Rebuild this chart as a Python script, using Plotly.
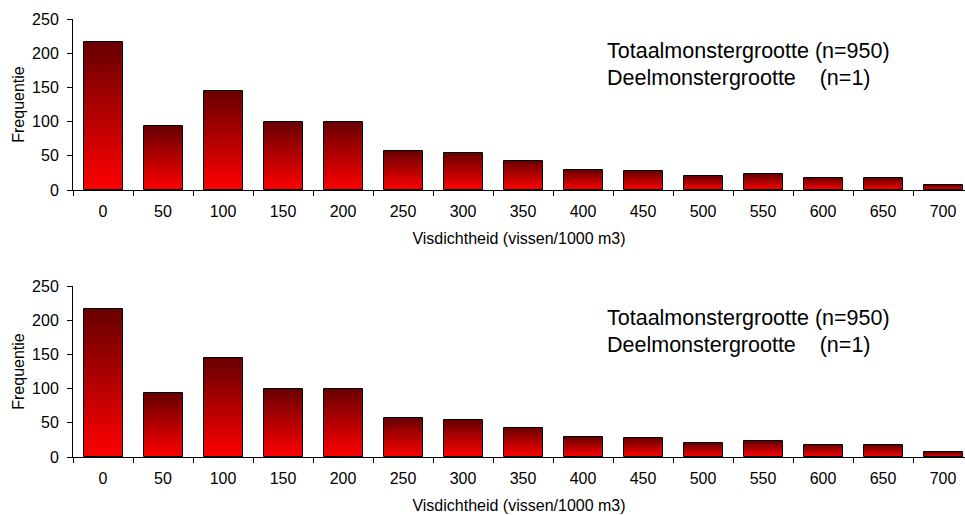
import plotly.graph_objects as go

categories = ["0", "50", "100", "150", "200", "250", "300", "350",
              "400", "450", "500", "550", "600", "650", "700"]
freq_top = [216, 93, 145, 100, 100, 57, 54, 43, 29, 28, 20, 23, 18, 17, 7]
freq_bottom = [216, 93, 145, 100, 100, 57, 54, 43, 29, 28, 20, 23, 18, 17, 7]
y_ticks = [0, 50, 100, 150, 200, 250]
x_title = "Visdichtheid (vissen/1000 m3)"
y_title = "Frequentie"
note_line1 = "Totaalmonstergrootte (n=950)"
note_line2 = "Deelmonstergrootte\u00a0\u00a0\u00a0\u00a0(n=1)"

W, H = 965, 515
FONT = "Arial, 'Liberation Sans', sans-serif"
K = 60
BOTTOM_RGB = (255, 0, 0)
TOP_RGB = (104, 0, 0)


def seg_color(t):
    r = round(BOTTOM_RGB[0] + (TOP_RGB[0] - BOTTOM_RGB[0]) * t)
    g = round(BOTTOM_RGB[1] + (TOP_RGB[1] - BOTTOM_RGB[1]) * t)
    b = round(BOTTOM_RGB[2] + (TOP_RGB[2] - BOTTOM_RGB[2]) * t)
    return f"rgba({r},{g},{b},0.999)"


fig = go.Figure()


def add_bars(values, xa, ya):
    for k in range(K):
        frac = k / K
        fig.add_trace(go.Bar(
            x=categories,
            y=[v * (1 - frac) for v in values],
            base=[v * frac for v in values],
            width=0.65,
            marker=dict(color=seg_color((k + 0.5) / K), line=dict(width=0)),
            xaxis=xa, yaxis=ya, showlegend=False, hoverinfo="skip",
        ))
    fig.add_trace(go.Bar(
        x=categories, y=values, width=0.65,
        marker=dict(color="rgba(0,0,0,0)", line=dict(color="black", width=1)),
        xaxis=xa, yaxis=ya, showlegend=False, hoverinfo="skip",
    ))


add_bars(freq_top, "x", "y")
add_bars(freq_bottom, "x2", "y2")

x_left = 73 / W
xrange = [-0.5, -0.5 + (W - 73) / 60.0]

common_x = dict(
    type="category", range=xrange, showgrid=False, zeroline=False,
    showline=True, linecolor="black", linewidth=1, automargin=False,
    ticks="outside", ticklen=5, tickcolor="black", tickson="boundaries",
    tickfont=dict(family=FONT, size=16, color="black"),
    ticklabelstandoff=7,
    title=dict(text=x_title, font=dict(family=FONT, size=16, color="black"), standoff=13),
    domain=[x_left, 1],
)
common_y = dict(
    range=[0, 250], tickvals=y_ticks, showgrid=False, zeroline=False,
    showline=True, linecolor="black", linewidth=1, automargin=False,
    ticks="outside", ticklen=5, tickcolor="black",
    tickfont=dict(family=FONT, size=16, color="black"),
    ticklabelstandoff=5,
    title=dict(text=y_title, font=dict(family=FONT, size=16, color="black"), standoff=3),
)

fig.update_layout(
    width=W, height=H,
    margin=dict(l=0, r=0, t=0, b=0, autoexpand=False),
    paper_bgcolor="white", plot_bgcolor="white",
    barmode="overlay", bargap=0, bargroupgap=0,
    xaxis=dict(**common_x, anchor="y"),
    yaxis=dict(**common_y, anchor="x", domain=[1 - 190 / H, 1 - 19 / H]),
    xaxis2=dict(**common_x, anchor="y2"),
    yaxis2=dict(**common_y, anchor="x2", domain=[1 - 457 / H, 1 - 286 / H]),
    font=dict(family=FONT, color="black"),
)

ann_font = dict(family=FONT, size=21.5, color="black")
for y1, y2 in [(51.5, 78.2), (318.2, 345.0)]:
    fig.add_annotation(text=note_line1, xref="paper", yref="paper",
                       x=605 / W, y=1 - y1 / H, xanchor="left", yanchor="middle",
                       showarrow=False, font=ann_font)
    fig.add_annotation(text=note_line2, xref="paper", yref="paper",
                       x=605 / W, y=1 - y2 / H, xanchor="left", yanchor="middle",
                       showarrow=False, font=ann_font)

fig.write_html("out.html")
